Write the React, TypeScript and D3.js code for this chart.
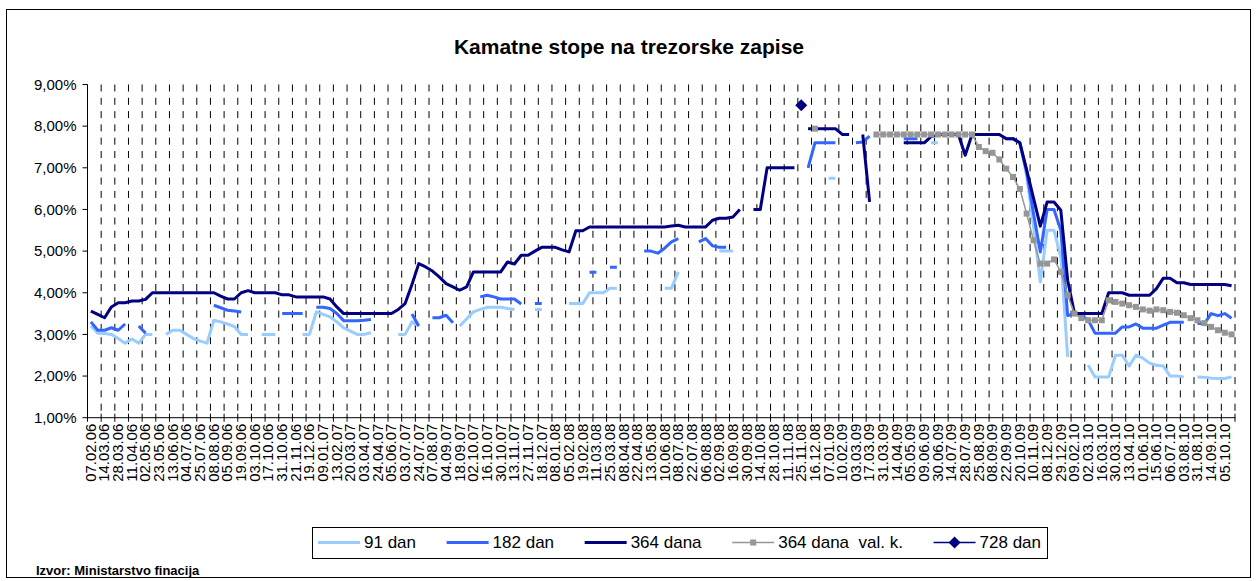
import React from 'react';
import * as d3 from 'd3';

const tickLabels: string[] = [
  "07.02.06","14.03.06","28.03.06","11.04.06","02.05.06","23.05.06","13.06.06","04.07.06","25.07.06","08.08.06",
  "05.09.06","19.09.06","03.10.06","17.10.06","31.10.06","21.11.06","19.12.06","09.01.07","13.02.07","20.03.07",
  "03.04.07","24.04.07","05.06.07","03.07.07","24.07.07","07.08.07","04.09.07","18.09.07","02.10.07","16.10.07",
  "30.10.07","13.11.07","27.11.07","18.12.07","08.01.08","05.02.08","19.02.08","11.03.08","25.03.08","08.04.08",
  "22.04.08","13.05.08","10.06.08","08.07.08","22.07.08","06.08.08","02.09.08","16.09.08","30.09.08","14.10.08",
  "28.10.08","11.11.08","25.11.08","16.12.08","07.01.09","10.02.09","03.03.09","17.03.09","31.03.09","14.04.09",
  "05.05.09","09.06.09","30.06.09","14.07.09","28.07.09","25.08.09","08.09.09","22.09.09","20.10.09","10.11.09",
  "08.12.09","29.12.09","09.02.10","02.03.10","16.03.10","30.03.10","13.04.10","01.06.10","15.06.10","06.07.10",
  "03.08.10","31.08.10","14.09.10","05.10.10"
];

const _ = null;

// 168 auction dates (every second one is labelled)
const s91: (number | null)[] = [
  3.20,3.03,3.02,3.00,2.90,2.79,2.89,2.79,3.00,3.00, // 0
  _,3.00,3.10,3.10,3.00,2.90,2.84,2.79,3.34,3.30,     // 10
  3.25,3.19,3.00,3.00,_,3.00,3.00,3.00,_,_,           // 20
  _,3.00,3.00,3.54,3.48,3.42,3.30,3.16,3.08,3.00,     // 30
  3.00,3.04,_,_,_,3.00,3.00,3.30,3.20,_,              // 40
  _,_,_,_,3.20,3.37,3.54,3.60,3.65,3.65,              // 50
  3.65,3.62,3.60,_,_,3.60,3.60,_,_,_,                 // 60
  3.74,3.74,3.74,4.00,4.00,4.00,4.11,4.11,_,_,        // 70
  _,_,_,_,4.11,4.11,4.50,_,_,_,                       // 80
  _,_,5.00,5.00,5.00,_,_,_,_,_,                       // 90
  _,_,_,_,_,_,_,_,6.75,6.75,                          // 100
  _,_,_,_,_,_,_,_,_,_,                                // 110
  _,_,_,7.60,7.60,_,_,_,_,_,                          // 120
  _,_,_,_,_,7.70,7.60,6.80,5.60,4.26,                 // 130
  5.50,5.50,4.86,2.46,_,_,2.26,1.98,1.98,1.98,        // 140
  2.50,2.50,2.24,2.50,2.43,2.31,2.26,2.24,2.00,2.00,  // 150
  1.98,_,1.98,1.97,1.95,1.94,1.94,1.98                // 160
];

const s182: (number | null)[] = [
  3.30,3.10,3.10,3.16,3.10,3.25,_,3.20,3.03,_,        // 0
  _,_,_,_,_,_,_,_,3.70,3.64,                          // 10
  3.58,3.56,3.54,_,_,_,_,_,3.50,3.50,                 // 20
  3.50,3.50,_,3.65,3.65,3.62,3.50,3.33,3.33,3.33,     // 30
  3.34,3.36,_,_,_,_,_,3.49,3.20,_,                    // 40
  3.40,3.40,3.46,3.28,_,_,_,3.90,3.94,3.90,           // 50
  3.85,3.85,3.85,3.73,_,3.74,3.74,_,_,_,              // 60
  _,_,_,4.49,4.49,_,4.61,4.61,_,_,                    // 70
  _,5.00,5.00,4.95,5.07,5.22,5.30,_,_,5.22,           // 80
  5.30,5.13,5.09,5.09,_,_,_,_,_,_,                    // 90
  _,_,_,_,_,7.00,7.60,7.60,7.60,7.60,                 // 100
  _,_,7.60,7.62,7.76,_,_,_,_,7.70,                    // 110
  7.70,7.70,_,_,_,_,_,_,_,_,                          // 120
  _,_,_,_,7.70,7.70,7.60,6.90,5.90,4.98,              // 130
  6.00,6.00,5.50,3.45,3.50,3.45,3.35,3.03,3.03,3.03,  // 140
  3.03,3.18,3.18,3.25,3.15,3.15,3.15,3.22,3.29,3.29,  // 150
  3.29,_,3.27,3.25,3.50,3.45,3.50,3.39                // 160
];

const s364: (number | null)[] = [
  3.56,3.48,3.40,3.66,3.76,3.76,3.80,3.80,3.84,4.00,  // 0
  4.00,4.00,4.00,4.00,4.00,4.00,4.00,4.00,4.00,3.92,  // 10
  3.85,3.85,4.00,4.05,4.00,4.00,4.00,4.00,3.95,3.95,  // 20
  3.90,3.90,3.90,3.90,3.90,3.85,3.66,3.50,3.50,3.50,  // 30
  3.50,3.50,3.50,3.50,3.50,3.60,3.74,4.20,4.70,4.62,  // 40
  4.52,4.38,4.22,4.14,4.06,4.14,4.50,4.50,4.50,4.50,  // 50
  4.50,4.74,4.69,4.90,4.90,5.00,5.09,5.09,5.09,5.03,  // 60
  4.98,5.49,5.49,5.58,5.58,5.58,5.58,5.58,5.58,5.58,  // 70
  5.58,5.58,5.58,5.58,5.58,5.60,5.62,5.58,5.58,5.58,  // 80
  5.58,5.74,5.79,5.79,5.82,6.00,_,6.00,6.00,7.00,     // 90
  7.00,7.00,7.00,7.00,_,7.94,7.94,7.94,7.94,7.94,     // 100
  7.80,7.80,_,7.80,6.18,_,_,_,_,7.60,                 // 110
  7.60,7.60,7.60,7.75,7.80,7.80,7.80,7.80,7.30,7.80,  // 120
  7.80,7.80,7.80,7.80,7.70,7.70,7.60,6.95,6.27,5.60,  // 130
  6.18,6.18,5.98,4.30,3.50,3.50,3.50,3.50,3.50,4.00,  // 140
  4.00,4.00,3.94,3.94,3.94,3.94,4.10,4.35,4.35,4.24,  // 150
  4.24,4.20,4.20,4.20,4.20,4.20,4.20,4.17             // 160
];

const s364vk: (number | null)[] = [
  _,_,_,_,_,_,_,_,_,_, _,_,_,_,_,_,_,_,_,_,           // 0-19
  _,_,_,_,_,_,_,_,_,_, _,_,_,_,_,_,_,_,_,_,           // 20-39
  _,_,_,_,_,_,_,_,_,_, _,_,_,_,_,_,_,_,_,_,           // 40-59
  _,_,_,_,_,_,_,_,_,_, _,_,_,_,_,_,_,_,_,_,           // 60-79
  _,_,_,_,_,_,_,_,_,_, _,_,_,_,_,_,_,_,_,_,           // 80-99
  _,_,_,_,_,_,7.94,_,_,_,                             // 100
  _,_,_,_,_,7.80,7.80,7.80,7.80,7.80,                 // 110
  7.80,7.80,7.80,7.80,7.80,7.80,7.80,7.80,7.80,7.80,  // 120
  7.50,7.40,7.36,7.20,6.98,6.78,6.49,5.90,5.26,4.70,  // 130
  4.70,4.80,4.50,3.94,3.50,3.39,3.34,3.34,3.34,3.82,  // 140
  3.78,3.74,3.70,3.66,3.60,3.57,3.60,3.58,3.54,3.52,  // 150
  3.46,3.39,3.34,3.27,3.18,3.10,3.04,3.00             // 160
];

const s728: (number | null)[] = [
  _,_,_,_,_,_,_,_,_,_, _,_,_,_,_,_,_,_,_,_,
  _,_,_,_,_,_,_,_,_,_, _,_,_,_,_,_,_,_,_,_,
  _,_,_,_,_,_,_,_,_,_, _,_,_,_,_,_,_,_,_,_,
  _,_,_,_,_,_,_,_,_,_, _,_,_,_,_,_,_,_,_,_,
  _,_,_,_,_,_,_,_,_,_, _,_,_,_,_,_,_,_,_,_,
  _,_,_,_,8.50,_,_,_,_,_, _,_,_,_,_,_,_,_,_,_,
  _,_,_,_,_,_,_,_,_,_, _,_,_,_,_,_,_,_,_,_,
  _,_,_,_,_,_,_,_,_,_, _,_,_,_,_,_,_,_,_,_,
  _,_,_,_,_,_,_,_
];

const seriesNames = ["91 dan", "182 dan", "364 dana", "364 dana  val. k.", "728 dan"];
const yTicks = [1, 2, 3, 4, 5, 6, 7, 8, 9];
const title = "Kamatne stope na trezorske zapise";
const source = "Izvor: Ministarstvo finacija";

const W = 1257, H = 581;
const P = { left: 87.5, right: 1235, top: 84.5, bottom: 417.7 };
const COLORS = ["#99CCFF", "#3366FF", "#000080", "#969696", "#000080"];
const FONT = "Arial, 'Liberation Sans', sans-serif";

function measure(s: string, font: string): number {
  try {
    const ctx = document.createElement('canvas').getContext('2d')!;
    ctx.font = font;
    return ctx.measureText(s).width;
  } catch (e) {
    return s.length * 8;
  }
}

const DIAMOND = "M0,-6L6,0L0,6L-6,0Z";

export default function App() {
  const n = s91.length;
  const cats = d3.range(n);
  const x = d3.scaleBand<number>().domain(cats).range([P.left, P.right]).padding(0);
  const y = d3.scaleLinear().domain([1, 9]).range([P.bottom, P.top]);
  const cx = (i: number) => (x(i) as number) + x.bandwidth() / 2;
  const mkLine = d3.line<number | null>()
    .defined(d => d != null)
    .x((_d, i) => cx(i))
    .y(d => y(d as number));

  const boundaries = d3.range(0, n + 1, 2).map(i => (i < n ? (x(i) as number) : P.right));
  const fmt = (v: number) => d3.format(".2f")(v).replace('.', ',') + '%';

  const series = [s91, s182, s364, s364vk, s728];
  const widths = [3, 3, 3, 1.5, 1.5];

  // legend layout
  const legFont = `17px Arial`;
  const box = { x: 312, y: 527, w: 735, h: 31 };
  const lineLen = 42, afterLine = 4;
  const tw = seriesNames.map(s => measure(s.replace(/ /g, '\u00a0'), legFont));
  const content = d3.sum(tw) + seriesNames.length * (lineLen + afterLine);
  const gap = (box.w - 12 - content) / (seriesNames.length - 1);
  let acc = box.x + 6;
  const legPos = tw.map(w => { const p = acc; acc += lineLen + afterLine + w + gap; return p; });
  const ly = box.y + box.h / 2;

  return (
    <svg width={W} height={H} style={{ position: 'absolute', left: 0, top: 0, display: 'block', background: '#fff' }}
      fontFamily={FONT}>
      <rect x={6.5} y={9.5} width={1244} height={568} fill="#fff" stroke="#000" strokeWidth={1} />
      <text x={629} y={54} textAnchor="middle" fontSize={21} fontWeight="bold">{title}</text>

      {/* vertical dashed gridlines */}
      {boundaries.slice(1).map((bx, k) => (
        <line key={'g' + k} x1={bx} x2={bx} y1={P.top} y2={P.bottom} stroke="#000" strokeWidth={1}
          strokeDasharray="7,6.3" />
      ))}

      {/* y axis */}
      <line x1={P.left} x2={P.left} y1={P.top} y2={P.bottom} stroke="#000" />
      {yTicks.map(t => (
        <g key={'y' + t}>
          <line x1={P.left - 5} x2={P.left} y1={y(t)} y2={y(t)} stroke="#000" />
          <text x={P.left - 11} y={y(t)} dy="0.35em" textAnchor="end" fontSize={15}>{fmt(t)}</text>
        </g>
      ))}

      {/* x axis */}
      <line x1={P.left} x2={P.right} y1={P.bottom} y2={P.bottom} stroke="#000" />
      {boundaries.map((bx, k) => (
        <line key={'xt' + k} x1={bx} x2={bx} y1={P.bottom - 4} y2={P.bottom + 4} stroke="#000" />
      ))}
      {tickLabels.map((lab, k) => (
        <text key={'xl' + k} transform={`translate(${cx(2 * k)},${P.bottom + 6}) rotate(-90)`}
          textAnchor="end" dy="0.35em" fontSize={14} textLength={58} lengthAdjust="spacingAndGlyphs">{lab}</text>
      ))}

      {/* series */}
      {series.map((s, si) => (
        <path key={'s' + si} d={mkLine(s) || ''} fill="none" stroke={COLORS[si]} strokeWidth={widths[si]}
          strokeLinejoin="round" />
      ))}
      {s364vk.map((v, i) => v == null ? null : (
        <rect key={'m' + i} x={cx(i) - 3} y={y(v) - 3} width={6} height={6} fill="#969696" />
      ))}
      {s728.map((v, i) => v == null ? null : (
        <path key={'d' + i} d={DIAMOND} transform={`translate(${cx(i)},${y(v)})`} fill="#000080" />
      ))}

      {/* legend */}
      <rect x={box.x + 0.5} y={box.y + 0.5} width={box.w} height={box.h} fill="#fff" stroke="#000" />
      {seriesNames.map((name, si) => {
        const lx = legPos[si];
        return (
          <g key={'l' + si}>
            <line x1={lx} x2={lx + lineLen} y1={ly} y2={ly} stroke={COLORS[si]} strokeWidth={si < 3 ? 3 : 1.5} />
            {si === 3 && <rect x={lx + lineLen / 2 - 3} y={ly - 3} width={6} height={6} fill="#969696" />}
            {si === 4 && <path d={DIAMOND} transform={`translate(${lx + lineLen / 2},${ly})`} fill="#000080" />}
            <text x={lx + lineLen + afterLine} y={ly} dy="0.35em" fontSize={17} style={{ whiteSpace: 'pre' }}>{name}</text>
          </g>
        );
      })}

      <text x={36} y={575} fontSize={13} fontWeight="bold">{source}</text>
    </svg>
  );
}
